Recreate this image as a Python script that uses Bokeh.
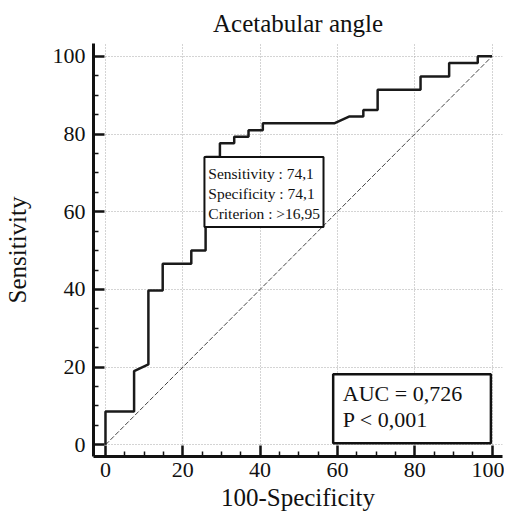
from bokeh.plotting import figure
from bokeh.models import Range1d, FixedTicker
from bokeh.core.properties import value
from bokeh.embed import file_html
from bokeh.resources import INLINE

# ROC curve (100-Specificity, Sensitivity)
fpr = [0, 0, 7.4, 7.4, 11.1, 11.1, 14.8, 14.8, 22.2, 22.2, 25.9, 25.9, 29.6, 29.6,
       33.3, 33.3, 37.0, 37.0, 40.7, 40.7, 59.3, 63.0, 66.7, 66.7, 70.4, 70.4,
       81.5, 81.5, 88.9, 88.9, 96.3, 96.3, 100]
tpr = [0, 8.6, 8.6, 19.0, 20.7, 39.7, 39.7, 46.6, 46.6, 50.0, 50.0, 74.1, 74.1, 77.6,
       77.6, 79.3, 79.3, 81.0, 81.0, 82.8, 82.8, 84.5, 84.5, 86.2, 86.2, 91.4,
       91.4, 94.8, 94.8, 98.3, 98.3, 100, 100]
diag_x = [0, 100]
diag_y = [0, 100]
major_ticks = [0, 20, 40, 60, 80, 100]
minor_ticks = [5, 10, 15, 25, 30, 35, 45, 50, 55, 65, 70, 75, 85, 90, 95]

crit_point = (25.9, 74.1)
crit_lines = ["Sensitivity : 74,1", "Specificity : 74,1", "Criterion : >16,95"]
auc_lines = ["AUC = 0,726", "P < 0,001"]

SERIF = "Liberation Serif"
SERIF_Q = "'Liberation Serif', serif"

p = figure(frame_width=409, frame_height=413, output_backend="svg",
           toolbar_location=None,
           x_range=Range1d(-3.1, 102.7), y_range=Range1d(-3.0, 103.3),
           min_border_left=0, min_border_right=2, min_border_top=0,
           min_border_bottom=0)
p.outline_line_color = None
p.background_fill_color = "white"

p.title.text = "Acetabular angle"
p.title.align = "center"
p.title.text_font = SERIF_Q
p.title.text_font_style = "normal"
p.title.text_font_size = "25px"
p.title.text_color = "#111111"
p.title.standoff = 14

for ax in (p.xaxis[0], p.yaxis[0]):
    ax.ticker = FixedTicker(ticks=major_ticks, minor_ticks=minor_ticks)
    ax.axis_line_width = 3
    ax.axis_line_color = "#111111"
    ax.major_tick_in = 11
    ax.major_tick_out = 0
    ax.minor_tick_in = 5
    ax.minor_tick_out = 0
    ax.major_tick_line_width = 2.5
    ax.minor_tick_line_width = 1.5
    ax.major_tick_line_color = "#111111"
    ax.minor_tick_line_color = "#111111"
    ax.major_label_text_font = SERIF_Q
    ax.major_label_text_font_size = "22px"
    ax.major_label_text_color = "#111111"
    ax.axis_label_text_font = SERIF_Q
    ax.axis_label_text_font_style = "normal"
    ax.axis_label_text_font_size = "25px"
    ax.axis_label_text_color = "#111111"

p.xaxis.axis_label = "100-Specificity"
p.yaxis.axis_label = "Sensitivity"
p.xaxis.major_label_standoff = 6
p.yaxis.major_label_standoff = 8
p.xaxis.axis_label_standoff = 4
p.yaxis.axis_label_standoff = 19

for g in (p.xgrid[0], p.ygrid[0]):
    g.ticker = FixedTicker(ticks=major_ticks)
    g.grid_line_color = "#a8a8a8"
    g.grid_line_dash = "1 2"
    g.grid_line_width = 1

p.line(diag_x, diag_y, line_color="#444444", line_width=1, line_dash="5 2")
p.line(fpr, tpr, line_color="#1a1a1a", line_width=2.5)

# criterion box, top-left corner at the criterion point
cx, cy = crit_point
p.quad(left=[cx - 0.3], right=[56.4], top=[cy], bottom=[56.1],
       fill_color="white", line_color="#111111", line_width=2)
p.text(x=[26.6, 26.6, 26.6], y=[69.9, 64.8, 59.6], text=crit_lines,
       text_font=value(SERIF), text_font_size="15.5px", text_color="#111111",
       text_baseline="middle", text_align="left")

# AUC box
p.quad(left=[58.9], right=[99.7], top=[18.2], bottom=[0.4],
       fill_color="white", line_color="#111111", line_width=2.5)
p.text(x=[61.4, 61.4], y=[13.2, 6.4], text=auc_lines,
       text_font=value(SERIF), text_font_size="22px", text_color="#111111",
       text_baseline="middle", text_align="left")

open("out.html", "w").write(file_html(p, INLINE))
